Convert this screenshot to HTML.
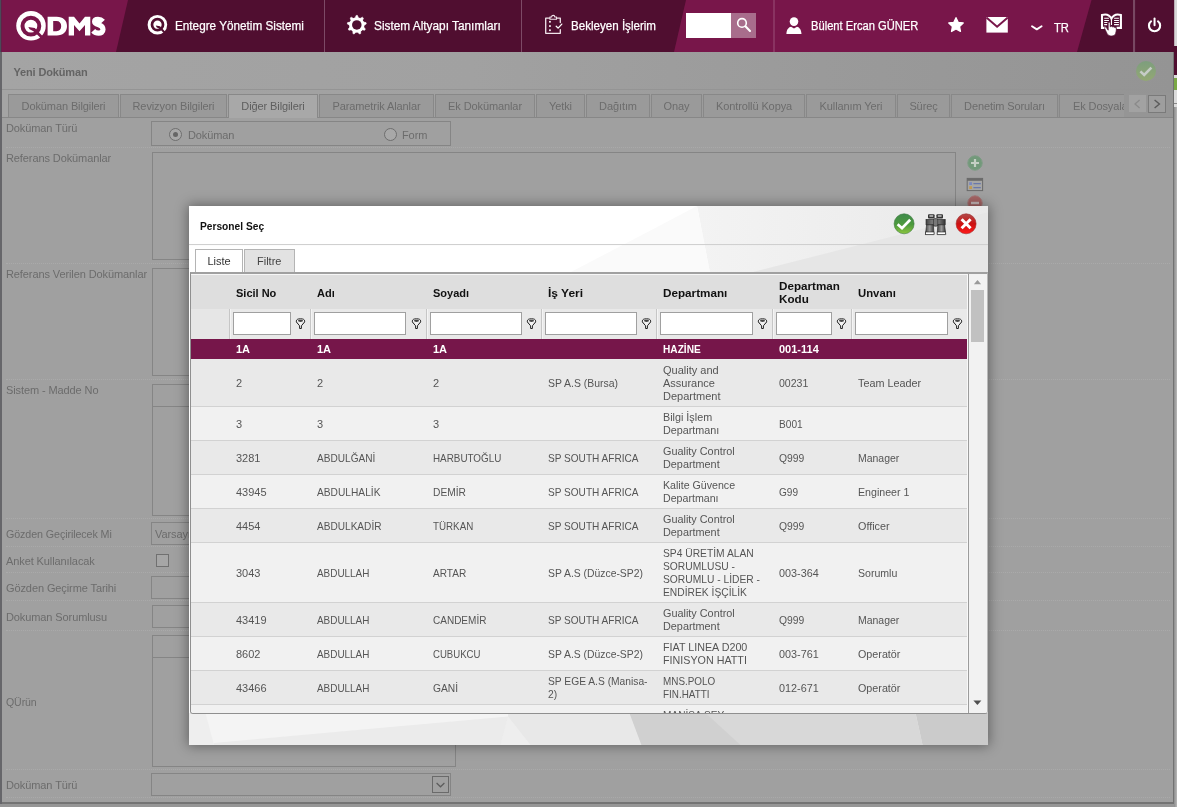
<!DOCTYPE html>
<html>
<head>
<meta charset="utf-8">
<title>QDMS</title>
<style>
html,body{margin:0;padding:0;}
body{width:1177px;height:807px;overflow:hidden;position:relative;background:#a0a0a0;font-family:"Liberation Sans",sans-serif;font-size:11px;letter-spacing:-0.1px;color:#6a6a6a;}
.abs{position:absolute;}
.t{position:absolute;white-space:nowrap;line-height:14px;}
/* header */
#hdr{position:absolute;left:0;top:0;width:1177px;height:52px;}
.ht{position:absolute;top:18px;letter-spacing:0;-webkit-text-stroke:0.25px #fff;color:#fff;font-size:12.5px;line-height:16px;white-space:nowrap;transform-origin:0 50%;}
/* background page */
.lbl{position:absolute;left:6px;white-space:nowrap;line-height:14px;color:#6c6c6c;}
.dot{position:absolute;left:6px;height:0;border-top:1px dotted #aaaaaa;}
.box{position:absolute;border:1px solid #858585;box-sizing:border-box;}
.tab{position:absolute;top:94px;height:23px;box-sizing:border-box;border:1px solid #888;border-bottom:none;background:#9a9a9a;color:#6c6c6c;text-align:center;line-height:22px;white-space:nowrap;}
.tab.act{background:#a8a8a8;height:24px;color:#5e5e5e;}

/* dialog */
#dlg{position:absolute;left:188.5px;top:206px;width:799.5px;height:539px;background:#fff;box-shadow:0 0 12px 1px rgba(0,0,0,.40);overflow:hidden;letter-spacing:0;}
#grid{position:absolute;left:1.5px;top:66px;width:797.5px;height:441.5px;box-sizing:border-box;border:1px solid #8f8f8f;border-right-color:#b8b8b8;border-top:2px solid #a0a0a0;border-radius:0 0 3px 3px;overflow:hidden;background:#f1f1f1;}
.hc{position:absolute;font-weight:bold;color:#111;font-size:11px;line-height:13px;white-space:nowrap;}
.fi{position:absolute;top:38px;height:23px;box-sizing:border-box;border:1px solid #a0a0a0;background:#fff;}
.fsep{position:absolute;top:35px;width:1px;height:29.5px;background:#c6c6c6;}
.row{position:absolute;left:0;width:776px;box-sizing:border-box;border-bottom:1px solid #d2d2d2;}
.row.o{background:#e9e9e9;}
.row.e{background:#f1f1f1;}
.c{transform-origin:0 50%;margin-top:1px;position:absolute;color:#555;font-size:11px;line-height:13px;white-space:nowrap;}
.sel .c{color:#fff;font-weight:bold;}
</style>
</head>
<body>
<div id="root" style="position:absolute;left:0;top:0;width:1177px;height:807px;will-change:transform;">
<!-- ===== page behind overlay ===== -->
<div class="abs" style="left:1.5px;top:52px;width:1172px;height:66px;background:linear-gradient(90deg,#a4a4a4 0%,#a1a1a1 40%,#9a9a9a 70%,#949494 100%);"></div>
<div class="abs" style="left:2px;top:89px;width:1171px;height:1px;background:#949494;"></div>
<div class="t" style="left:13.5px;top:65px;font-weight:bold;color:#646464;font-size:11px;letter-spacing:-0.15px;" id="yd">Yeni Doküman</div>

<!-- tabs -->
<div id="tabs">
<div class="tab" style="left:8px;width:111px;">Doküman Bilgileri</div>
<div class="tab" style="left:120px;width:107px;">Revizyon Bilgileri</div>
<div class="tab act" style="left:228px;width:90px;">Diğer Bilgileri</div>
<div class="tab" style="left:319px;width:115px;">Parametrik Alanlar</div>
<div class="tab" style="left:435px;width:100px;">Ek Dokümanlar</div>
<div class="tab" style="left:536px;width:49px;">Yetki</div>
<div class="tab" style="left:586px;width:64px;">Dağıtım</div>
<div class="tab" style="left:651px;width:51px;">Onay</div>
<div class="tab" style="left:703px;width:102px;">Kontrollü Kopya</div>
<div class="tab" style="left:806px;width:90px;">Kullanım Yeri</div>
<div class="tab" style="left:897px;width:53px;">Süreç</div>
<div class="tab" style="left:951px;width:107px;">Denetim Soruları</div>
<div class="tab" style="left:1059px;width:70px;overflow:hidden;text-align:left;text-indent:13px;border-right:none;">Ek Dosyalar</div>
</div>
<div class="abs" style="left:2px;top:117px;width:226px;height:1px;background:#878787;"></div>
<div class="abs" style="left:318px;top:117px;width:855px;height:1px;background:#878787;"></div>

<div class="abs" style="left:1124px;top:93px;width:49px;height:24px;background:#959595;"></div>
<div class="abs" style="left:1129px;top:95px;width:17px;height:17px;background:#a2a2a2;"></div>
<div class="abs" style="left:1148px;top:95px;width:18px;height:18px;box-sizing:border-box;border:1px solid #7a7a7a;background:#9e9e9e;"></div>
<svg class="abs" style="left:1129px;top:95px" width="38" height="18"><path d="M10.6 5 L6 9 L10.6 13" fill="none" stroke="#8a8a8a" stroke-width="1.3"/><path d="M25.6 5 L30.4 9 L25.6 13" fill="none" stroke="#5a5a5a" stroke-width="1.4"/></svg>
<!-- check icon top right -->
<svg class="abs" style="left:1135px;top:60px" width="22" height="22" viewBox="0 0 22 22">
<defs><linearGradient id="gg" x1="0" y1="0" x2="0" y2="1"><stop offset="0" stop-color="#7d9e7d"/><stop offset="1" stop-color="#93a873"/></linearGradient></defs>
<circle cx="11" cy="11" r="10" fill="url(#gg)"/>
<path d="M5.4 11.4 L9.2 15 L16.4 7.6" fill="none" stroke="#c6ccc6" stroke-width="2.6"/>
</svg>
<!-- form -->
<div id="form">
<!-- row: Doküman Türü -->
<div class="lbl" style="top:121px;" id="l1">Doküman Türü</div>
<div class="box" style="left:151px;top:121px;width:300px;height:25px;"></div>
<div class="abs" style="left:169px;top:128px;width:11px;height:11px;border:1px solid #6e6e6e;border-radius:50%;background:#a8a8a8;"></div>
<div class="abs" style="left:173px;top:132px;width:5px;height:5px;border-radius:50%;background:#666;"></div>
<div class="t" style="left:188px;top:128px;color:#6c6c6c;">Doküman</div>
<div class="abs" style="left:384px;top:128px;width:11px;height:11px;border:1px solid #6e6e6e;border-radius:50%;background:#a8a8a8;"></div>
<div class="t" style="left:402px;top:128px;color:#6c6c6c;">Form</div>
<div class="dot" style="top:147px;width:1164px;"></div>
<!-- row: Referans Dokümanlar -->
<div class="lbl" style="top:151px;" id="l2">Referans Dokümanlar</div>
<div class="box" style="left:152px;top:152px;width:804px;height:108px;"></div>
<div class="dot" style="top:263px;width:1164px;"></div>
<!-- side icons -->
<svg class="abs" style="left:966px;top:154px" width="20" height="54" viewBox="0 0 20 54">
<circle cx="9" cy="9" r="7.2" fill="#72997a" stroke="#7d9c84" stroke-width="1"/>
<path d="M9 5 V13 M5 9 H13" stroke="#c4cfc4" stroke-width="2.2"/>
<rect x="1.2" y="24.4" width="15.4" height="12.2" fill="#a6a6a6" stroke="#6a6a6a" stroke-width="1"/>
<rect x="1.2" y="24.4" width="15.4" height="2.4" fill="#6a6a6a"/>
<rect x="3.2" y="28.2" width="2.8" height="2.8" fill="#7a88c0"/>
<rect x="3.2" y="32.2" width="2.8" height="2.8" fill="#c09a50"/>
<path d="M7.4 29.6 H14.8 M7.4 33.6 H14.8" stroke="#6a78aa" stroke-width="1.1"/>
<circle cx="9" cy="49" r="7.2" fill="#a66464" stroke="#a47878" stroke-width="1"/>
<path d="M5 49 H13" stroke="#c8b8b8" stroke-width="2.4"/>
</svg>
<!-- row: Referans Verilen Dokümanlar -->
<div class="lbl" style="top:267px;" id="l3">Referans Verilen Dokümanlar</div>
<div class="box" style="left:152px;top:268px;width:304px;height:108px;"></div>
<div class="dot" style="top:379px;width:1164px;"></div>
<!-- row: Sistem - Madde No -->
<div class="lbl" style="top:383px;" id="l4">Sistem - Madde No</div>
<div class="box" style="left:152px;top:384px;width:304px;height:23px;"></div>
<div class="box" style="left:152px;top:406px;width:304px;height:110px;"></div>
<div class="dot" style="top:518px;width:1164px;"></div>
<!-- row: Gözden Geçirilecek Mi -->
<div class="lbl" style="top:527px;transform:scaleX(.974);transform-origin:0 50%;" id="l5">Gözden Geçirilecek Mi</div>
<div class="box" style="left:151px;top:522px;width:300px;height:23px;"></div>
<div class="t" style="left:155px;top:527px;color:#6c6c6c;">Varsayılan</div>
<div class="dot" style="top:546px;width:1164px;"></div>
<!-- row: Anket -->
<div class="lbl" style="top:554px;" id="l6">Anket Kullanılacak</div>
<div class="abs" style="left:156px;top:554px;width:11px;height:11px;border:1px solid #707070;background:#a6a6a6;"></div>
<div class="dot" style="top:572px;width:1164px;"></div>
<!-- row: Gözden Geçirme Tarihi -->
<div class="lbl" style="top:581px;" id="l7">Gözden Geçirme Tarihi</div>
<div class="box" style="left:151px;top:576px;width:120px;height:23px;"></div>
<div class="dot" style="top:600px;width:1164px;"></div>
<!-- row: Dokuman Sorumlusu -->
<div class="lbl" style="top:610px;" id="l8">Dokuman Sorumlusu</div>
<div class="box" style="left:152px;top:605px;width:304px;height:23px;"></div>
<div class="dot" style="top:630px;width:1164px;"></div>
<!-- row: QÜrün -->
<div class="lbl" style="top:695px;transform:scaleX(.96);transform-origin:0 50%;" id="l9">QÜrün</div>
<div class="box" style="left:152px;top:635px;width:304px;height:23px;"></div>
<div class="box" style="left:152px;top:657px;width:304px;height:110px;"></div>
<div class="dot" style="top:769px;width:1164px;"></div>
<!-- row: Doküman Türü (bottom) -->
<div class="lbl" style="top:778px;" id="l10">Doküman Türü</div>
<div class="box" style="left:151px;top:773px;width:300px;height:23px;"></div>
<div class="box" style="left:432px;top:776px;width:17px;height:17px;border-color:#6a6a6a;"></div>
<svg class="abs" style="left:432px;top:776px" width="17" height="17"><path d="M4.6 7 L8.5 10.8 L12.4 7" fill="none" stroke="#5c5c5c" stroke-width="1.2"/></svg>
<div class="dot" style="top:797px;width:1164px;"></div>
<!-- window frame -->
<div class="abs" style="left:0;top:52px;width:1.5px;height:755px;background:#66666a;"></div>
<div class="abs" style="left:2px;top:802px;width:1172px;height:2px;background:#747474;"></div>
<div class="abs" style="left:0;top:804px;width:1177px;height:3px;background:#969696;"></div>
<div class="abs" style="left:1173px;top:52px;width:1.5px;height:752px;background:#727272;"></div>
<div class="abs" style="left:1174.3px;top:52px;width:3px;height:755px;background:linear-gradient(90deg,#8c8c8c,#b8b8b8);"></div>
<div class="abs" style="left:1174.3px;top:46px;width:3px;height:29px;background:#500e30;"></div>
<div class="abs" style="left:1174.3px;top:75px;width:3px;height:32px;background:#dcdcdc;"></div>
<div class="abs" style="left:1174.3px;top:78px;width:3px;height:12px;background:#7aa845;"></div><div class="abs" style="left:1174.3px;top:103px;width:3px;height:1px;background:#888;"></div>
</div>

<!-- ===== header ===== -->
<div id="hdr">
<svg class="abs" style="left:0;top:0" width="1177" height="52" viewBox="0 0 1177 52">
<rect x="0" y="0" width="1177" height="52" fill="#500e30"/>
<rect x="0" y="0" width="1.5" height="52" fill="#4a4a58"/>
<polygon points="1.5,0 128,0 116,52 1.5,52" fill="#78164a"/>
<polygon points="686,0 1091.5,0 1077,52 674,52" fill="#78164a"/>
<rect x="324" y="0" width="1" height="52" fill="#7d4a66"/>
<rect x="521" y="0" width="1" height="52" fill="#7d4a66"/>
<rect x="773.5" y="0" width="1" height="52" fill="#9a5079"/>
<rect x="1133" y="0" width="2.1" height="52" fill="#784862"/>
<!-- right strip (other window) -->
<rect x="1174.2" y="0" width="3" height="46" fill="#d8d8d8"/>
<rect x="1174.2" y="46" width="3" height="6" fill="#500e30"/>
<!-- logo Q -->
<circle cx="31" cy="25.8" r="14.75" fill="#fff"/>
<circle cx="30.9" cy="26.1" r="8.4" fill="none" stroke="#78164a" stroke-width="4"/>
<polygon points="28.3,27.1 34.8,28 41.8,35.2 43.6,37.4 41.6,39 39.4,36.8 35.8,33.2 33,31 29.6,29.3" fill="#78164a"/>
<!-- DMS -->
<path fill-rule="evenodd" fill="#fff" d="M47.6 16.7 H56.6 C63.4 16.7 67 20.6 67 26.1 C67 31.6 63.4 35.5 56.6 35.5 H47.6 Z M53.2 20.9 V31.3 H56.3 C59.6 31.3 61.2 29.3 61.2 26.1 C61.2 22.9 59.6 20.9 56.3 20.9 Z"/>
<polygon fill="#fff" points="68.7,35.5 68.7,16.7 74,16.7 79.5,23.6 85,16.7 90.3,16.7 90.3,35.5 85,35.5 85,25 79.5,31.2 74,25 74,35.5"/>
<path d="M103 21.4 C101.6 19.9 99.6 19.3 98 19.3 C95.8 19.3 94.6 20.3 94.6 21.7 C94.6 23.4 96.4 24 98.8 24.8 C101.4 25.7 103 27 103 29.6 C103 32 101 33.2 98.6 33.2 C96.4 33.2 94.6 32.4 93.2 30.8" fill="none" stroke="#fff" stroke-width="5.2" stroke-linecap="butt"/>
<!-- small Q icon -->
<circle cx="157.4" cy="24.7" r="9.8" fill="#fff"/>
<circle cx="157.5" cy="24.7" r="5.5" fill="none" stroke="#500e30" stroke-width="2.7"/>
<polygon points="155.8,25.6 160,26.2 164.6,31 165.8,32.6 164.4,33.6 163,32.2 160.6,29.8 158.8,28.4 156.6,27.2" fill="#500e30"/>
<!-- gear -->
<path d="M355.18 17.88 L356.14 15.42 L357.46 15.42 L358.42 17.88 L360.07 18.48 L362.38 17.21 L363.40 18.07 L362.55 20.57 L363.43 22.09 L366.02 22.60 L366.25 23.91 L363.99 25.28 L363.69 27.01 L365.34 29.06 L364.68 30.21 L362.07 29.81 L360.72 30.94 L360.66 33.58 L359.42 34.03 L357.68 32.05 L355.92 32.05 L354.18 34.03 L352.94 33.58 L352.88 30.94 L351.53 29.81 L348.92 30.21 L348.26 29.06 L349.91 27.01 L349.61 25.28 L347.35 23.91 L347.58 22.60 L350.17 22.09 L351.05 20.57 L350.20 18.07 L351.22 17.21 L353.53 18.48 Z" fill="#fff" stroke="#fff" stroke-width="0.6" stroke-linejoin="round"/>
<circle cx="356.8" cy="24.9" r="7.5" fill="#fff"/>
<circle cx="356.8" cy="24.9" r="4.75" fill="#500e30"/>
<!-- clipboard -->
<g fill="none" stroke="#f0e4ea" stroke-width="1.3" stroke-linejoin="round" stroke-linecap="round">
<path d="M549.6 18.1 H545.7 V33.3 H560.3 V29.6"/>
<path d="M556.6 18.1 H560.3 V22.6"/>
<path d="M549.9 19.3 V17 H551.6 C551.6 14.9 554.8 14.9 554.8 17 H556.5 V19.3 Z" stroke-width="1.1"/>
<path d="M556.2 26.2 L558.1 28.1 L561.8 24.1" stroke-width="1.3" stroke="#fff"/>
</g>
<g fill="#fff">
<rect x="549.1" y="20.9" width="1.7" height="1.7"/>
<rect x="549.1" y="25.2" width="1.7" height="1.7"/>
<rect x="549.1" y="29.4" width="1.7" height="1.7"/>
</g>
<!-- search -->
<rect x="686" y="13" width="45" height="25" fill="#fff"/>
<rect x="731" y="13" width="25" height="25" fill="#a86d8c"/>
<circle cx="742" cy="22.9" r="4.3" fill="none" stroke="#fff" stroke-width="1.6"/>
<path d="M745.4 26.3 L750 30.9" stroke="#fff" stroke-width="2.1" stroke-linecap="round"/>
<!-- user -->
<circle cx="794" cy="21.6" r="4.3" fill="#fff"/>
<path d="M786.4 34 C786.6 29 789 27.2 791 26.8 L794 28.4 L797 26.8 C799 27.2 801.2 29 801.5 34 Z" fill="#fff"/>
<!-- star -->
<path d="M956.00 17.70 L958.17 22.31 L963.23 22.95 L959.52 26.44 L960.47 31.45 L956.00 29.00 L951.53 31.45 L952.48 26.44 L948.77 22.95 L953.83 22.31 Z" fill="#fff" stroke="#fff" stroke-width="1.3" stroke-linejoin="round"/>
<!-- mail -->
<rect x="986.4" y="17" width="21.4" height="15.6" fill="#fff"/>
<path d="M986.4 17.6 L997.1 26.8 L1007.8 17.6" fill="none" stroke="#78164a" stroke-width="2"/>
<!-- chevron -->
<path d="M1032 26.2 L1036.8 29.4 L1041.6 26.2" fill="none" stroke="#fff" stroke-width="1.9" stroke-linecap="round" stroke-linejoin="round"/>
<!-- book -->
<g fill="none" stroke="#fff" stroke-width="2.1" stroke-linejoin="miter">
<path d="M1106 27.9 H1102 V15 C1105.4 14 1109.4 14.6 1111.45 18.6 C1113.5 14.6 1117.5 14 1120.9 15 V27.9 H1116.6"/>
</g>
<path d="M1111.45 18.6 V25" stroke="#fff" stroke-width="1.2"/>
<g stroke="#fff" stroke-width="1.05">
<path d="M1104.2 18.3 H1108.9 M1104.2 20.4 H1108.9 M1104.2 22.5 H1107.4 M1104.2 24.6 H1107.2"/>
<path d="M1114.1 18.3 H1118.9 M1114.1 20.4 H1118.9 M1114.1 22.5 H1118.9 M1114.1 24.6 H1118.9"/>
</g>
<!-- hand cursor -->
<path d="M1108.2 23.2 C1108.2 21.8 1110.2 21.8 1110.2 23.2 L1110.2 26.8 L1111.6 26.2 L1112.8 27 L1113.8 26.8 L1114.8 27.6 L1115.6 27.6 C1116.4 28 1116.4 29.4 1116.2 31 L1115.6 33.6 C1115 35.4 1113.4 36 1111.6 36 C1109.4 36 1108 35.2 1107 33.4 L1104.6 28.4 C1104.2 27 1105.6 26.6 1106.4 27.6 L1108.2 30.2 Z" fill="#fff" stroke="#500e30" stroke-width="0.7"/>
<!-- power -->
<path d="M1151.10 21.29 A5.6 5.6 0 1 0 1158.00 21.29" fill="none" stroke="#fff" stroke-width="2.1" stroke-linecap="round"/>
<path d="M1154.55 18.6 V25.2" stroke="#fff" stroke-width="2" stroke-linecap="round"/>
</svg>
<div class="ht" style="left:175px;transform:scaleX(.939);" id="h1">Entegre Yönetim Sistemi</div>
<div class="ht" style="left:374px;transform:scaleX(.9465);" id="h2">Sistem Altyapı Tanımları</div>
<div class="ht" style="left:571px;transform:scaleX(.927);" id="h3">Bekleyen İşlerim</div>
<div class="ht" style="left:811px;transform:scaleX(.893);" id="h4">Bülent Ercan GÜNER</div>
<div class="ht" style="left:1054px;top:20px;font-size:13.4px;transform:scaleX(.84);" id="h5">TR</div>
</div>

<!-- ===== dialog ===== -->
<div id="dlg">
<svg class="abs" style="left:0;top:0" width="800" height="539" viewBox="0 0 800 538" preserveAspectRatio="none">
<defs>
<linearGradient id="bgA" x1="0" y1="0" x2="1" y2="0"><stop offset="0" stop-color="#f3f3f3"/><stop offset="1" stop-color="#e9e9e9"/></linearGradient>
<linearGradient id="bgB" x1="0" y1="0" x2="1" y2="0"><stop offset="0" stop-color="#f6f6f6"/><stop offset="0.4" stop-color="#efefef"/><stop offset="1" stop-color="#d4d4d4"/></linearGradient>
</defs>
<rect width="800" height="538" fill="#fff"/>
<polygon points="508,0 800,0 800,67 521,67" fill="url(#bgA)"/>
<polygon points="800,6 800,67 560,67" fill="#e6e6e6"/>
<polygon points="508,0 521,67 380,67" fill="#fafafa"/>
<rect x="0" y="506" width="800" height="32" fill="#f4f4f4"/>
<polygon points="24.5,536 319.1,509.6 311.5,538 24.5,538" fill="#ebebeb"/>
<polygon points="0,506 16.5,506 24.5,536 24.5,538 0,538" fill="#eeeeee"/>
<polygon points="319.1,506 440.5,506 452.5,538 311.5,538 319.1,509.6" fill="#e8e8e8"/>
<polygon points="319.1,509.6 341.5,538 311.5,538" fill="#eeeeee"/>
<polygon points="440.5,506 726.5,506 733.5,538 452.5,538" fill="#d8d8d8"/>
<polygon points="440.5,506 516.5,506 551.5,538 452.5,538" fill="#d0d0d0"/>
<polygon points="726.5,506 799.5,506 799.5,538 733.5,538" fill="#cbcbcb"/>
<rect x="0" y="38" width="800" height="1" fill="#cdcdcd"/>
</svg>
<div class="t" id="dtitle" style="left:11.3px;top:13px;font-weight:bold;color:#111;font-size:11px;transform:scaleX(.927);transform-origin:0 50%;">Personel Seç</div>
<!-- dialog icons -->
<svg class="abs" style="left:703px;top:6px" width="90" height="26" viewBox="0 0 90 26">
<defs>
<linearGradient id="g1" x1="0" y1="0" x2="0" y2="1"><stop offset="0" stop-color="#3f8a4c"/><stop offset="0.55" stop-color="#4d9a3c"/><stop offset="1" stop-color="#8cc63f"/></linearGradient>
<linearGradient id="r1" x1="0" y1="0" x2="0" y2="1"><stop offset="0" stop-color="#b04a4a"/><stop offset="0.5" stop-color="#cc1111"/><stop offset="1" stop-color="#ff1a1a"/></linearGradient>
<linearGradient id="bn" x1="0" y1="0" x2="1" y2="0"><stop offset="0" stop-color="#444"/><stop offset="0.5" stop-color="#999"/><stop offset="1" stop-color="#333"/></linearGradient>
</defs>
<circle cx="12.1" cy="11.8" r="10" fill="url(#g1)" stroke="#3d7a3d" stroke-width="0.6"/>
<path d="M5.6 12.2 L10 16.2 L18.2 7.8" fill="none" stroke="#fff" stroke-width="2.7"/>
<!-- binoculars -->
<g>
<rect x="36" y="2.2" width="6.6" height="4.2" rx="1" fill="#333"/>
<rect x="44.4" y="2.2" width="6.6" height="4.2" rx="1" fill="#333"/>
<rect x="37.4" y="3.2" width="3.8" height="1.6" fill="#bbb"/>
<rect x="45.8" y="3.2" width="3.8" height="1.6" fill="#bbb"/>
<rect x="34" y="7.4" width="19.2" height="5.4" fill="url(#bn)" stroke="#222" stroke-width="0.6"/>
<rect x="41.4" y="6.6" width="4.4" height="7.6" rx="1.4" fill="#777" stroke="#222" stroke-width="0.6"/>
<path d="M34.6 12.8 L33.4 22.6 H42 L41.4 12.8 Z" fill="url(#bn)" stroke="#222" stroke-width="0.6"/>
<path d="M45.8 12.8 L45.2 22.6 H53.8 L52.6 12.8 Z" fill="url(#bn)" stroke="#222" stroke-width="0.6"/>
<rect x="33.6" y="20" width="8.4" height="2.6" fill="#fff" stroke="#222" stroke-width="0.6"/>
<rect x="45.2" y="20" width="8.4" height="2.6" fill="#fff" stroke="#222" stroke-width="0.6"/>
</g>
<circle cx="74.1" cy="11.8" r="10" fill="url(#r1)" stroke="#a02828" stroke-width="0.6"/>
<path d="M69.6 7.3 L78.6 16.3 M78.6 7.3 L69.6 16.3" stroke="#fff" stroke-width="3"/>
</svg>
<!-- tabs -->
<div class="abs" style="left:6.5px;top:43px;width:48px;height:24px;box-sizing:border-box;border:1px solid #b4b4b4;border-bottom:none;background:#fff;"></div>
<div class="abs" style="left:55.5px;top:43px;width:51px;height:23px;box-sizing:border-box;border:1px solid #b4b4b4;border-bottom:none;background:#e2e2e2;"></div>
<div class="t" id="tb1" style="left:19px;top:48px;color:#333;font-size:11px;">Liste</div>
<div class="t" id="tb2" style="left:68.5px;top:48px;color:#444;font-size:11px;">Filtre</div>
<div id="grid">
<div class="abs" style="left:0;top:0;width:777px;height:35px;background:#dedede;"></div>
<div class="abs" style="left:0;top:34.7px;width:777px;height:30.3px;background:#e9e9e9;"></div>
<div class="abs" style="left:0;top:34.7px;width:38.5px;height:30.3px;background:#e6e6e6;"></div>
<div class="hc" id="hc0" style="left:45px;top:13px;">Sicil No</div><div class="hc" id="hc1" style="left:126px;top:13px;">Adı</div><div class="hc" id="hc2" style="left:242px;top:13px;">Soyadı</div><div class="hc" id="hc3" style="left:357px;top:13px;transform:scaleX(1.09);transform-origin:0 50%;">İş Yeri</div><div class="hc" id="hc4" style="left:472px;top:13px;transform:scaleX(1.063);transform-origin:0 50%;">Departmanı</div><div class="hc" id="hc5" style="left:588px;top:5.5px;transform:scaleX(1.06);transform-origin:0 50%;">Departman<br>Kodu</div><div class="hc" id="hc6" style="left:667px;top:13px;transform:scaleX(1.03);transform-origin:0 50%;">Unvanı</div>
<div class="fi" style="left:42px;width:58px;"></div><div class="fi" style="left:123px;width:92px;"></div><div class="fi" style="left:239px;width:92px;"></div><div class="fi" style="left:354px;width:92px;"></div><div class="fi" style="left:469px;width:93px;"></div><div class="fi" style="left:585px;width:56px;"></div><div class="fi" style="left:664px;width:93px;"></div><div class="fsep" style="left:38px;"></div><div class="fsep" style="left:39px;background:#f4f4f4;"></div><div class="fsep" style="left:119px;"></div><div class="fsep" style="left:120px;background:#f4f4f4;"></div><div class="fsep" style="left:235px;"></div><div class="fsep" style="left:236px;background:#f4f4f4;"></div><div class="fsep" style="left:350px;"></div><div class="fsep" style="left:351px;background:#f4f4f4;"></div><div class="fsep" style="left:465px;"></div><div class="fsep" style="left:466px;background:#f4f4f4;"></div><div class="fsep" style="left:581px;"></div><div class="fsep" style="left:582px;background:#f4f4f4;"></div><div class="fsep" style="left:660px;"></div><div class="fsep" style="left:661px;background:#f4f4f4;"></div><svg class="abs" style="left:104px;top:44px" width="11" height="13" viewBox="0 0 11 13"><ellipse cx="5.5" cy="3.2" rx="4.2" ry="2.4" fill="#f2f2f2" stroke="#222" stroke-width="1"/><ellipse cx="5.5" cy="2.8" rx="2.6" ry="1.1" fill="#444"/><path d="M1.6 4.2 L4.6 7.8 V10.5 H6.4 V7.8 L9.4 4.2" fill="#f2f2f2" stroke="#222" stroke-width="1" stroke-linejoin="round"/></svg><svg class="abs" style="left:219.5px;top:44px" width="11" height="13" viewBox="0 0 11 13"><ellipse cx="5.5" cy="3.2" rx="4.2" ry="2.4" fill="#f2f2f2" stroke="#222" stroke-width="1"/><ellipse cx="5.5" cy="2.8" rx="2.6" ry="1.1" fill="#444"/><path d="M1.6 4.2 L4.6 7.8 V10.5 H6.4 V7.8 L9.4 4.2" fill="#f2f2f2" stroke="#222" stroke-width="1" stroke-linejoin="round"/></svg><svg class="abs" style="left:335px;top:44px" width="11" height="13" viewBox="0 0 11 13"><ellipse cx="5.5" cy="3.2" rx="4.2" ry="2.4" fill="#f2f2f2" stroke="#222" stroke-width="1"/><ellipse cx="5.5" cy="2.8" rx="2.6" ry="1.1" fill="#444"/><path d="M1.6 4.2 L4.6 7.8 V10.5 H6.4 V7.8 L9.4 4.2" fill="#f2f2f2" stroke="#222" stroke-width="1" stroke-linejoin="round"/></svg><svg class="abs" style="left:450px;top:44px" width="11" height="13" viewBox="0 0 11 13"><ellipse cx="5.5" cy="3.2" rx="4.2" ry="2.4" fill="#f2f2f2" stroke="#222" stroke-width="1"/><ellipse cx="5.5" cy="2.8" rx="2.6" ry="1.1" fill="#444"/><path d="M1.6 4.2 L4.6 7.8 V10.5 H6.4 V7.8 L9.4 4.2" fill="#f2f2f2" stroke="#222" stroke-width="1" stroke-linejoin="round"/></svg><svg class="abs" style="left:566px;top:44px" width="11" height="13" viewBox="0 0 11 13"><ellipse cx="5.5" cy="3.2" rx="4.2" ry="2.4" fill="#f2f2f2" stroke="#222" stroke-width="1"/><ellipse cx="5.5" cy="2.8" rx="2.6" ry="1.1" fill="#444"/><path d="M1.6 4.2 L4.6 7.8 V10.5 H6.4 V7.8 L9.4 4.2" fill="#f2f2f2" stroke="#222" stroke-width="1" stroke-linejoin="round"/></svg><svg class="abs" style="left:645px;top:44px" width="11" height="13" viewBox="0 0 11 13"><ellipse cx="5.5" cy="3.2" rx="4.2" ry="2.4" fill="#f2f2f2" stroke="#222" stroke-width="1"/><ellipse cx="5.5" cy="2.8" rx="2.6" ry="1.1" fill="#444"/><path d="M1.6 4.2 L4.6 7.8 V10.5 H6.4 V7.8 L9.4 4.2" fill="#f2f2f2" stroke="#222" stroke-width="1" stroke-linejoin="round"/></svg><svg class="abs" style="left:761px;top:44px" width="11" height="13" viewBox="0 0 11 13"><ellipse cx="5.5" cy="3.2" rx="4.2" ry="2.4" fill="#f2f2f2" stroke="#222" stroke-width="1"/><ellipse cx="5.5" cy="2.8" rx="2.6" ry="1.1" fill="#444"/><path d="M1.6 4.2 L4.6 7.8 V10.5 H6.4 V7.8 L9.4 4.2" fill="#f2f2f2" stroke="#222" stroke-width="1" stroke-linejoin="round"/></svg>
<div class="row sel" style="top:65px;height:20px;background:#76164a;border-bottom:none;"><div class="c" id="r0c0" style="left:45px;top:2.5px;">1A</div><div class="c" id="r0c1" style="left:126px;top:2.5px;">1A</div><div class="c" id="r0c2" style="left:242px;top:2.5px;">1A</div><div class="c" id="r0c4" style="left:472px;top:2.5px;transform:scaleX(0.922);">HAZİNE</div><div class="c" id="r0c5" style="left:588px;top:2.5px;">001-114</div></div><div class="row o" style="top:85px;height:48px;"><div class="c" id="r1c0" style="left:45px;top:17px;">2</div><div class="c" id="r1c1" style="left:126px;top:17px;">2</div><div class="c" id="r1c2" style="left:242px;top:17px;">2</div><div class="c" id="r1c3" style="left:357px;top:17px;transform:scaleX(0.95);">SP A.S (Bursa)</div><div class="c" id="r1c4" style="left:472px;top:4px;">Quality and<br>Assurance<br>Department</div><div class="c" id="r1c5" style="left:588px;top:17px;transform:scaleX(0.96);">00231</div><div class="c" id="r1c6" style="left:667px;top:17px;transform:scaleX(0.983);">Team Leader</div></div><div class="row e" style="top:133px;height:34px;"><div class="c" id="r2c0" style="left:45px;top:10px;">3</div><div class="c" id="r2c1" style="left:126px;top:10px;">3</div><div class="c" id="r2c2" style="left:242px;top:10px;">3</div><div class="c" id="r2c4" style="left:472px;top:3px;transform:scaleX(0.98);">Bilgi İşlem<br>Departmanı</div><div class="c" id="r2c5" style="left:588px;top:10px;transform:scaleX(0.92);">B001</div></div><div class="row o" style="top:167px;height:34px;"><div class="c" id="r3c0" style="left:45px;top:10px;">3281</div><div class="c" id="r3c1" style="left:126px;top:10px;transform:scaleX(0.917);">ABDULĞANİ</div><div class="c" id="r3c2" style="left:242px;top:10px;transform:scaleX(0.896);">HARBUTOĞLU</div><div class="c" id="r3c3" style="left:357px;top:10px;transform:scaleX(0.916);">SP SOUTH AFRICA</div><div class="c" id="r3c4" style="left:472px;top:3px;transform:scaleX(0.986);">Guality Control<br>Department</div><div class="c" id="r3c5" style="left:588px;top:10px;transform:scaleX(0.94);">Q999</div><div class="c" id="r3c6" style="left:667px;top:10px;transform:scaleX(0.952);">Manager</div></div><div class="row e" style="top:201px;height:34px;"><div class="c" id="r4c0" style="left:45px;top:10px;">43945</div><div class="c" id="r4c1" style="left:126px;top:10px;transform:scaleX(0.927);">ABDULHALİK</div><div class="c" id="r4c2" style="left:242px;top:10px;transform:scaleX(0.93);">DEMİR</div><div class="c" id="r4c3" style="left:357px;top:10px;transform:scaleX(0.916);">SP SOUTH AFRICA</div><div class="c" id="r4c4" style="left:472px;top:3px;transform:scaleX(0.966);">Kalite Güvence<br>Departmanı</div><div class="c" id="r4c5" style="left:588px;top:10px;transform:scaleX(0.915);">G99</div><div class="c" id="r4c6" style="left:667px;top:10px;transform:scaleX(0.966);">Engineer 1</div></div><div class="row o" style="top:235px;height:34px;"><div class="c" id="r5c0" style="left:45px;top:10px;">4454</div><div class="c" id="r5c1" style="left:126px;top:10px;transform:scaleX(0.917);">ABDULKADİR</div><div class="c" id="r5c2" style="left:242px;top:10px;transform:scaleX(0.89);">TÜRKAN</div><div class="c" id="r5c3" style="left:357px;top:10px;transform:scaleX(0.916);">SP SOUTH AFRICA</div><div class="c" id="r5c4" style="left:472px;top:3px;transform:scaleX(0.986);">Guality Control<br>Department</div><div class="c" id="r5c5" style="left:588px;top:10px;transform:scaleX(0.94);">Q999</div><div class="c" id="r5c6" style="left:667px;top:10px;transform:scaleX(0.98);">Officer</div></div><div class="row e" style="top:269px;height:60px;"><div class="c" id="r6c0" style="left:45px;top:23px;">3043</div><div class="c" id="r6c1" style="left:126px;top:23px;transform:scaleX(0.902);">ABDULLAH</div><div class="c" id="r6c2" style="left:242px;top:23px;transform:scaleX(0.917);">ARTAR</div><div class="c" id="r6c3" style="left:357px;top:23px;transform:scaleX(0.943);">SP A.S (Düzce-SP2)</div><div class="c" id="r6c4" style="left:472px;top:3px;transform:scaleX(0.934);">SP4 ÜRETİM ALAN<br>SORUMLUSU -<br>SORUMLU - LİDER -<br>ENDİREK İŞÇİLİK</div><div class="c" id="r6c5" style="left:588px;top:23px;transform:scaleX(0.983);">003-364</div><div class="c" id="r6c6" style="left:667px;top:23px;transform:scaleX(0.96);">Sorumlu</div></div><div class="row o" style="top:329px;height:34px;"><div class="c" id="r7c0" style="left:45px;top:10px;">43419</div><div class="c" id="r7c1" style="left:126px;top:10px;transform:scaleX(0.902);">ABDULLAH</div><div class="c" id="r7c2" style="left:242px;top:10px;transform:scaleX(0.91);">CANDEMİR</div><div class="c" id="r7c3" style="left:357px;top:10px;transform:scaleX(0.916);">SP SOUTH AFRICA</div><div class="c" id="r7c4" style="left:472px;top:3px;transform:scaleX(0.986);">Guality Control<br>Department</div><div class="c" id="r7c5" style="left:588px;top:10px;transform:scaleX(0.94);">Q999</div><div class="c" id="r7c6" style="left:667px;top:10px;transform:scaleX(0.952);">Manager</div></div><div class="row e" style="top:363px;height:34px;"><div class="c" id="r8c0" style="left:45px;top:10px;">8602</div><div class="c" id="r8c1" style="left:126px;top:10px;transform:scaleX(0.902);">ABDULLAH</div><div class="c" id="r8c2" style="left:242px;top:10px;transform:scaleX(0.873);">CUBUKCU</div><div class="c" id="r8c3" style="left:357px;top:10px;transform:scaleX(0.943);">SP A.S (Düzce-SP2)</div><div class="c" id="r8c4" style="left:472px;top:3px;transform:scaleX(0.976);">FIAT LINEA D200<br>FINISYON HATTI</div><div class="c" id="r8c5" style="left:588px;top:10px;transform:scaleX(0.983);">003-761</div><div class="c" id="r8c6" style="left:667px;top:10px;transform:scaleX(0.977);">Operatör</div></div><div class="row o" style="top:397px;height:34px;"><div class="c" id="r9c0" style="left:45px;top:10px;">43466</div><div class="c" id="r9c1" style="left:126px;top:10px;transform:scaleX(0.902);">ABDULLAH</div><div class="c" id="r9c2" style="left:242px;top:10px;transform:scaleX(0.93);">GANİ</div><div class="c" id="r9c3" style="left:357px;top:3px;transform:scaleX(0.932);">SP EGE A.S (Manisa-<br>2)</div><div class="c" id="r9c4" style="left:472px;top:3px;transform:scaleX(0.9);">MNS.POLO<br>FIN.HATTI</div><div class="c" id="r9c5" style="left:588px;top:10px;transform:scaleX(0.983);">012-671</div><div class="c" id="r9c6" style="left:667px;top:10px;transform:scaleX(0.977);">Operatör</div></div><div class="row e" style="top:431px;height:34px;"><div class="c" id="r10c0" style="left:45px;top:10px;">43468</div><div class="c" id="r10c1" style="left:126px;top:10px;transform:scaleX(0.902);">ABDULLAH</div><div class="c" id="r10c2" style="left:242px;top:10px;transform:scaleX(0.91);">GÜL</div><div class="c" id="r10c3" style="left:357px;top:10px;transform:scaleX(0.95);">SP A.S (Bursa)</div><div class="c" id="r10c4" style="left:472px;top:3px;transform:scaleX(0.92);">MANİSA SEY.<br>HATTI</div><div class="c" id="r10c5" style="left:588px;top:10px;transform:scaleX(0.983);">012-672</div><div class="c" id="r10c6" style="left:667px;top:10px;transform:scaleX(0.977);">Operatör</div></div>
<!-- scrollbar -->
<div class="abs" style="left:0;top:0;width:777px;height:1px;background:#f6f6f6;"></div>
<div class="abs" style="left:776px;top:0;width:1px;height:440px;background:#f8f8f8;"></div>
<div class="abs" style="left:777px;top:0;width:1px;height:440px;background:#9c9c9c;"></div>
<div class="abs" style="left:778px;top:0;width:19px;height:441px;background:#f2f2f2;"></div>
<div class="abs" style="left:780px;top:16px;width:13px;height:52px;background:#c1c1c1;"></div>
<svg class="abs" style="left:777px;top:0" width="18" height="440"><path d="M5.9 10.2 L9.5 5.9 L13.1 10.2 Z" fill="#9a9a9a"/><path d="M5.4 426.6 L9.4 431 L13.4 426.6 Z" fill="#505050"/></svg>
</div>
</div>
</div>
</body>
</html>
